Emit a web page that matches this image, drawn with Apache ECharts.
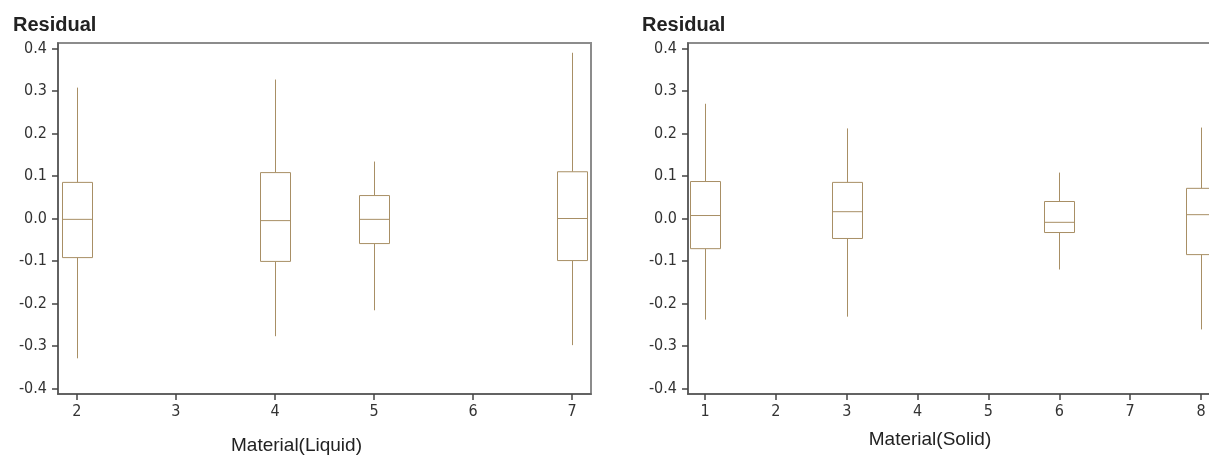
<!DOCTYPE html>
<html>
<head>
<meta charset="utf-8">
<script src="https://cdn.jsdelivr.net/npm/echarts@6/dist/echarts.min.js"></script>
<style>
html,body{margin:0;padding:0;background:#fff;}
#c{width:1209px;height:458px;}
</style>
</head>
<body>
<div id="c"></div>
<script>
// ---- data ----
const yTicks = [-0.4, -0.3, -0.2, -0.1, 0.0, 0.1, 0.2, 0.3, 0.4];
const liquidTicks = [2, 3, 4, 5, 6, 7];
const solidTicks = [1, 2, 3, 4, 5, 6, 7, 8];

const liquidCats = [2, 4, 5, 7];
const liquidLow  = [-0.329, -0.277, -0.216, -0.298];
const liquidQ1   = [-0.092, -0.101, -0.059, -0.099];
const liquidMed  = [-0.002, -0.005, -0.002, 0.000];
const liquidQ3   = [0.085, 0.108, 0.054, 0.110];
const liquidHigh = [0.308, 0.327, 0.134, 0.390];

const solidCats = [1, 3, 6, 8];
const solidLow  = [-0.238, -0.231, -0.120, -0.261];
const solidQ1   = [-0.071, -0.047, -0.033, -0.085];
const solidMed  = [0.007, 0.016, -0.009, 0.009];
const solidQ3   = [0.087, 0.085, 0.040, 0.071];
const solidHigh = [0.270, 0.212, 0.108, 0.214];

// ---- build ----
function rows(c, lo, q1, md, q3, hi) {
  return c.map((x, i) => [x, lo[i], q1[i], md[i], q3[i], hi[i]]);
}
const BOX = '#a88f65';
const HALF = 15;
function renderBox(params, api) {
  const x = api.value(0);
  const lo = api.coord([x, api.value(1)]);
  const q1 = api.coord([x, api.value(2)]);
  const md = api.coord([x, api.value(3)]);
  const q3 = api.coord([x, api.value(4)]);
  const hi = api.coord([x, api.value(5)]);
  const cx = Math.round(q1[0]) + 0.5;
  const st = {stroke: BOX, lineWidth: 1, fill: null};
  return {
    type: 'group',
    children: [
      {type: 'line', shape: {x1: cx, y1: hi[1], x2: cx, y2: q3[1]}, style: st},
      {type: 'line', shape: {x1: cx, y1: q1[1], x2: cx, y2: lo[1]}, style: st},
      {type: 'rect', shape: {x: cx - HALF, y: q3[1], width: HALF * 2, height: q1[1] - q3[1]},
        style: {stroke: BOX, lineWidth: 1, fill: '#fff'}},
      {type: 'line', shape: {x1: cx - HALF, y1: md[1], x2: cx + HALF, y2: md[1]}, style: st}
    ]
  };
}

const tickFont = {fontFamily: '"Liberation Sans Narrow", "Arial Narrow", "DejaVu Sans Condensed", sans-serif', fontSize: 16, color: '#333'};
function yAxis(gi) {
  return {
    type: 'value', gridIndex: gi, min: -0.413, max: 0.413,
    axisLine: {show: true, lineStyle: {color: '#555', width: 1.5}},
    axisTick: {show: true, length: 6, customValues: yTicks, lineStyle: {color: '#444', width: 1.5}},
    axisLabel: Object.assign({margin: 11, customValues: yTicks, formatter: v => v.toFixed(1)}, tickFont),
    splitLine: {show: false}
  };
}
function xAxis(gi, min, max, ticks, name, padRight, gap) {
  return {
    type: 'value', gridIndex: gi, min: min, max: max,
    name: name, nameLocation: 'middle', nameGap: gap,
    nameTextStyle: {fontFamily: '"Liberation Sans", Arial, sans-serif', fontSize: 19, color: '#222', padding: [0, padRight, 0, 0]},
    axisLine: {show: true, onZero: false, lineStyle: {color: '#555', width: 1.5}},
    axisTick: {show: true, length: 6, customValues: ticks, lineStyle: {color: '#444', width: 1.5}},
    axisLabel: Object.assign({margin: 10, customValues: ticks, formatter: v => String(v)}, tickFont),
    splitLine: {show: false}
  };
}

const titleStyle = {fontFamily: '"Liberation Sans", Arial, sans-serif', fontSize: 20, fontWeight: 'bold', color: '#222'};
const chart = echarts.init(document.getElementById('c'), null, {renderer: 'canvas'});
chart.setOption({
  animation: false,
  backgroundColor: '#fff',
  title: [
    {text: 'Residual', left: 8, top: 10, textStyle: titleStyle},
    {text: 'Residual', left: 637, top: 10, textStyle: titleStyle}
  ],
  grid: [
    {left: 58, top: 43, width: 533, height: 351, outerBoundsMode: 'none', containLabel: false, show: true, borderColor: '#8c8c8c', borderWidth: 2, backgroundColor: 'transparent'},
    {left: 688, top: 43, width: 530, height: 351, outerBoundsMode: 'none', containLabel: false, show: true, borderColor: '#8c8c8c', borderWidth: 2, backgroundColor: 'transparent'}
  ],
  xAxis: [
    xAxis(0, 1.81, 7.19, liquidTicks, 'Material(Liquid)', 56, 42),
    xAxis(1, 0.76, 8.24, solidTicks, 'Material(Solid)', 46, 36)
  ],
  yAxis: [yAxis(0), yAxis(1)],
  series: [
    {type: 'custom', name: 'Liquid', xAxisIndex: 0, yAxisIndex: 0, renderItem: renderBox,
      encode: {x: 0, y: [1, 2, 3, 4, 5]}, data: rows(liquidCats, liquidLow, liquidQ1, liquidMed, liquidQ3, liquidHigh)},
    {type: 'custom', name: 'Solid', xAxisIndex: 1, yAxisIndex: 1, renderItem: renderBox,
      encode: {x: 0, y: [1, 2, 3, 4, 5]}, data: rows(solidCats, solidLow, solidQ1, solidMed, solidQ3, solidHigh)}
  ]
});
</script>
</body>
</html>
